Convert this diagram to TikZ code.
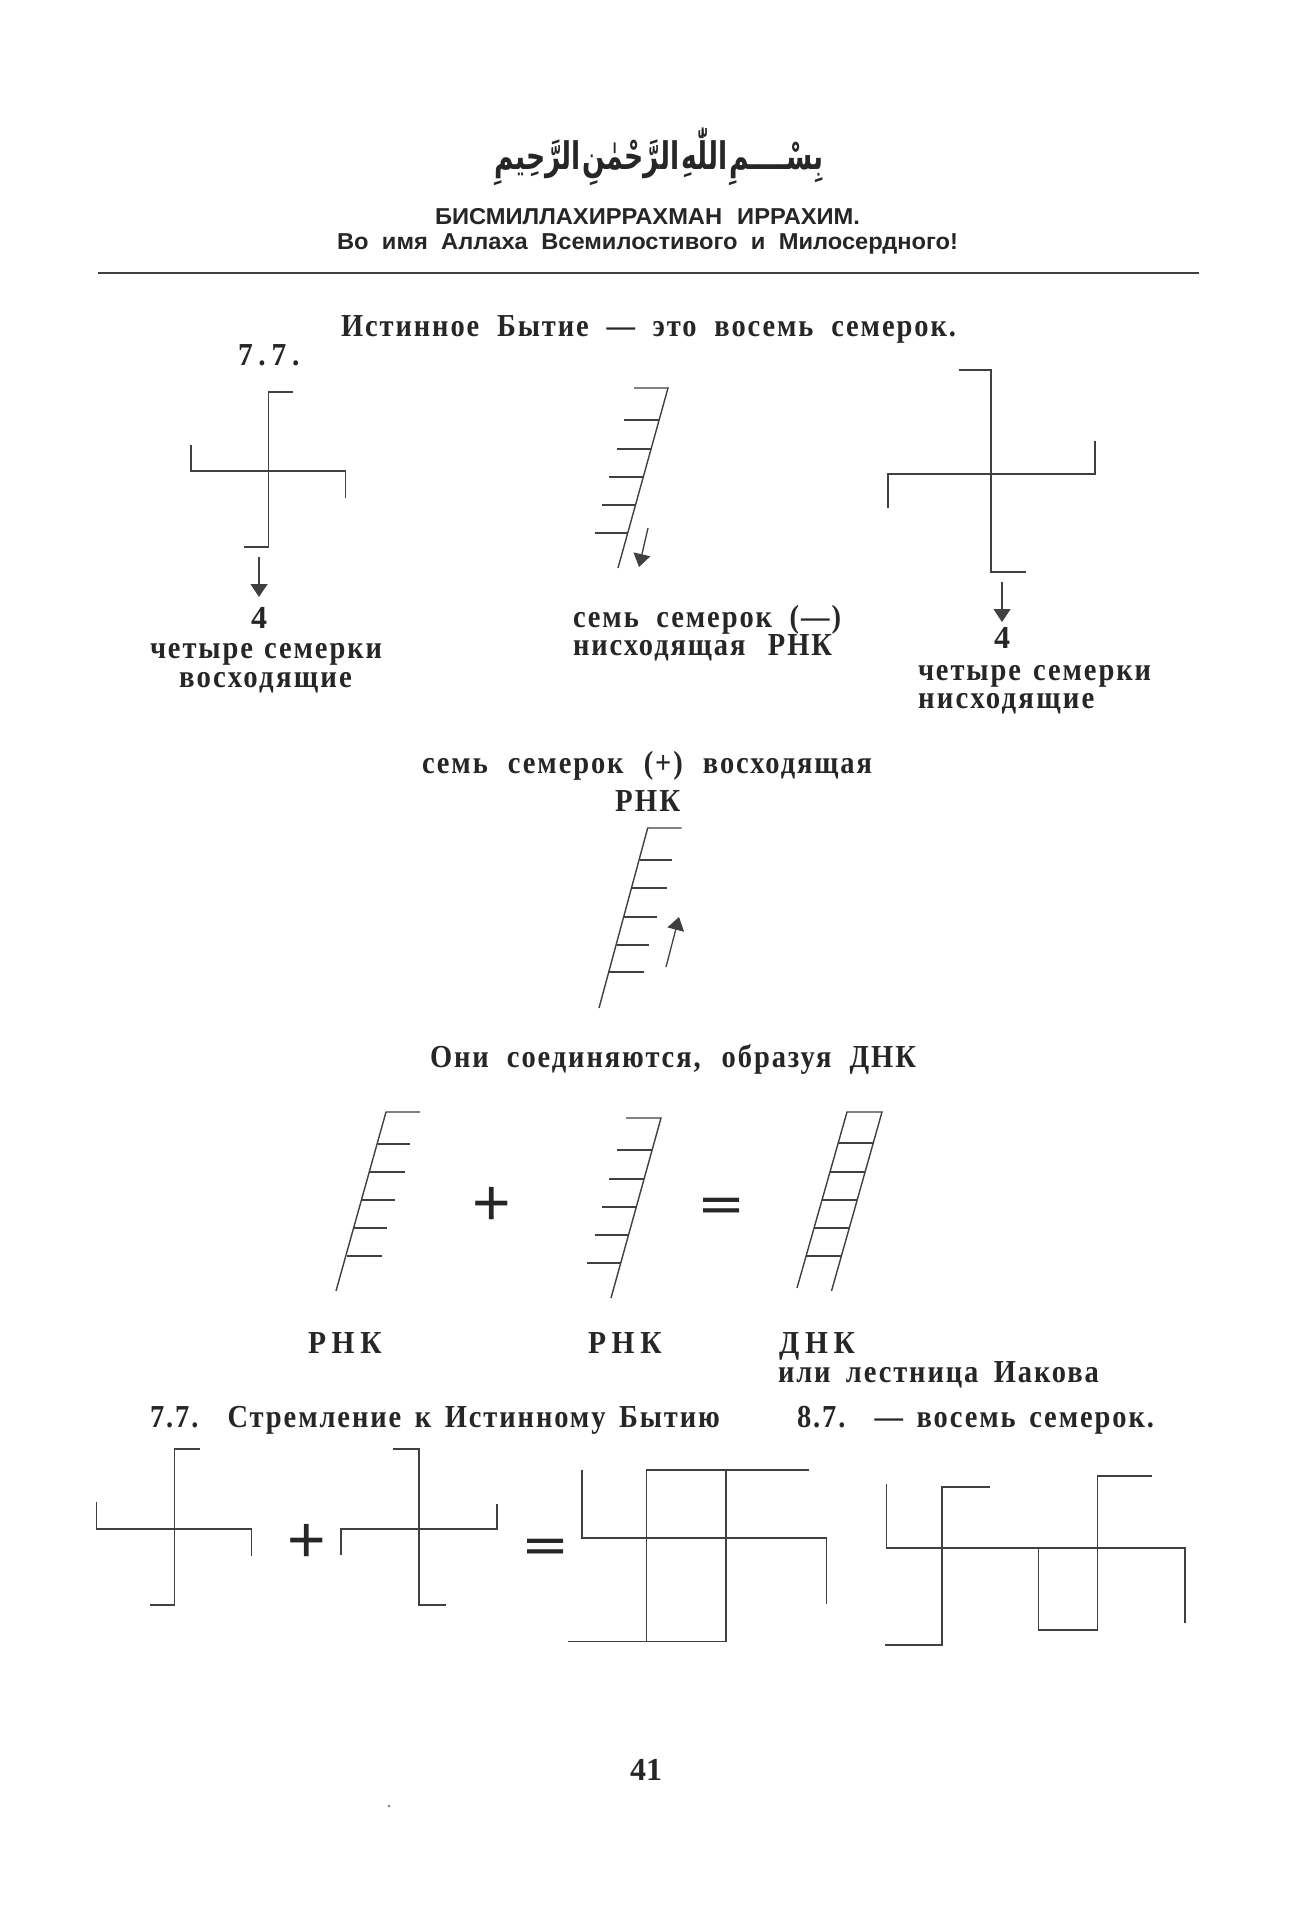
\documentclass[tikz,border=0pt]{standalone}
\usepackage{fontspec}
\usepackage{graphicx}
\usetikzlibrary{arrows.meta}
\TeXXeTstate=1
\setmainfont{Liberation Serif}
\newfontfamily\labf[LetterSpace=6,FakeStretch=0.89,WordSpace=0.8]{Liberation Serif}
\newfontfamily\labs[LetterSpace=7,FakeStretch=0.9]{Liberation Serif}
\newfontfamily\labw[LetterSpace=18,FakeStretch=0.92]{Liberation Serif}
\newfontfamily\headf[FakeStretch=1.03,WordSpace=0.5]{Liberation Sans}
\newfontfamily\symf{Liberation Sans}
\newfontfamily\arabicfont[Script=Arabic,FakeStretch=0.7,WordSpace=0.2]{DejaVu Sans}
\definecolor{ink}{HTML}{262626}
\definecolor{wire}{HTML}{404040}
\newcommand\lb[2]{\makebox[#1pt][s]{\fontsize{32}{32}\labf\bfseries #2}}
\newcommand\ls[1]{\fontsize{32}{32}\labs\bfseries #1}
\newcommand\lw[1]{\fontsize{32}{32}\labw\bfseries #1}
\newcommand\hd[2]{\makebox[#1pt][s]{\fontsize{23}{23}\headf\bfseries #2}}
\tikzset{
  txt/.style={inner sep=0pt,outer sep=0pt,anchor=base west,text=ink},
  sym/.style={inner sep=0pt,outer sep=0pt,anchor=center,text=ink},
  wl/.style={draw=wire,line width=1.4pt},
  arr/.style={draw=wire,line width=1.3pt,-{Stealth[length=13pt,width=17pt,inset=0pt]}}
}
\begin{document}
\begin{tikzpicture}[x=1pt,y=-1pt]
\useasboundingbox (0,0) rectangle (1308,1920);
\fill[white] (0,0) rectangle (1308,1920);
% header
\node[sym] (basmala) at (659,157) {\arabicfont\fontsize{38}{38}\selectfont\bfseries\beginR بِسْــــمِ اللّٰهِ الرَّحْمٰنِ الرَّحِيمِ\endR};
\node[txt] (h1) at (435,224) {\hd{425}{БИСМИЛЛАХИРРАХМАН ИРРАХИМ.}};
\node[txt] (h2) at (337,249) {\hd{621}{Во имя Аллаха Всемилостивого и Милосердного!}};
\draw[wl] (98,273) -- (1199,273);
\node[txt] (t1) at (341,336) {\lb{615}{Истинное Бытие — это восемь семерок.}};
\node[txt] (t2) at (238,365) {\lw{7.7.}};
% left swastika
\draw[wl] (293,392) -- (268.6,392) -- (268.6,547) -- (244,547);
\draw[wl] (191,445) -- (191,471) -- (345.7,471) -- (345.7,498);
\draw[arr] (259,557) -- (259,597);
\node[txt,anchor=base] (n4a) at (259,628) {\fontsize{32}{32}\selectfont\bfseries 4};
\node[txt] (l1) at (150,658) {\lb{232}{четыре семерки}};
\node[txt] (l2) at (179,687) {\ls{восходящие}};
% descending RNA
\draw[wl] (634,388) -- (668,388) -- (618,568);
\draw[wl] (624,420) -- (659,420);
\draw[wl] (617,449) -- (651,449);
\draw[wl] (609,477) -- (643,477);
\draw[wl] (602,505) -- (635,505);
\draw[wl] (595,533) -- (627,533);
\draw[arr] (648,528) -- (639,567);
\node[txt] (m1) at (573,627) {\lb{268}{семь семерок (—)}};
\node[txt] (m2) at (573,655) {\lb{259}{нисходящая РНК}};
% right swastika
\draw[wl] (958.6,370) -- (991,370) -- (991,572) -- (1025.5,572);
\draw[wl] (888,508) -- (888,474) -- (1095,474) -- (1095,441);
\draw[arr] (1002,582) -- (1002,622);
\node[txt,anchor=base] (n4b) at (1002,648) {\fontsize{32}{32}\selectfont\bfseries 4};
\node[txt] (r1) at (918,680) {\lb{233}{четыре семерки}};
\node[txt] (r2) at (918,708) {\ls{нисходящие}};
% ascending RNA
\node[txt] (c1) at (422,773) {\lb{450}{семь семерок (+) восходящая}};
\node[txt] (c2) at (615,811) {\ls{РНК}};
\draw[wl] (681.7,828) -- (647.7,828) -- (599,1008);
\draw[wl] (639.5,860) -- (672,860);
\draw[wl] (632,888) -- (667,888);
\draw[wl] (624,917) -- (657,917);
\draw[wl] (616.5,945) -- (649,945);
\draw[wl] (609,972) -- (644,972);
\draw[arr] (666,967) -- (679,917);
\node[txt] (c3) at (430,1067) {\lb{486}{Они соединяются, образуя ДНК}};
% ladders
\draw[wl] (420,1112) -- (386,1112) -- (336,1291);
\draw[wl] (377.5,1144) -- (410,1144);
\draw[wl] (370,1172) -- (404.5,1172);
\draw[wl] (362,1200) -- (394.5,1200);
\draw[wl] (354,1228) -- (387,1228);
\draw[wl] (346.5,1256) -- (382,1256);
\node[sym] (plus1) at (492,1206) {\fontsize{66}{66}\symf +};
\draw[wl] (626,1118) -- (661,1118) -- (611,1298);
\draw[wl] (617,1150) -- (652,1150);
\draw[wl] (609,1179) -- (644,1179);
\draw[wl] (602,1207) -- (636,1207);
\draw[wl] (595,1235) -- (628,1235);
\draw[wl] (587,1263) -- (620.5,1263);
\node[sym] (eq1) at (722,1208) {\scalebox{1.2}[0.65]{\fontsize{60}{60}\symf\bfseries =}};
\draw[wl] (797,1288) -- (847,1112) -- (882,1112) -- (831.5,1291);
\draw[wl] (838,1143) -- (873,1143);
\draw[wl] (830,1172) -- (865,1172);
\draw[wl] (822,1200) -- (857,1200);
\draw[wl] (814,1228) -- (849,1228);
\draw[wl] (806,1256) -- (841,1256);
\node[txt] (a1) at (308,1353) {\lw{РНК}};
\node[txt] (a2) at (588,1353) {\lw{РНК}};
\node[txt] (a3) at (779,1353) {\lw{ДНК}};
\node[txt] (a4) at (778,1382) {\lb{321}{или лестница Иакова}};
\node[txt] (b1) at (150,1427) {\lb{570}{7.7. Стремление к Истинному Бытию}};
\node[txt] (b2) at (797,1427) {\lb{357}{8.7. — восемь семерок.}};
% bottom swastikas
\draw[wl] (200,1449) -- (174.4,1449) -- (174.4,1605) -- (150,1605);
\draw[wl] (96.6,1502) -- (96.6,1529) -- (251.5,1529) -- (251.5,1556);
\node[sym] (plus2) at (307,1543) {\fontsize{66}{66}\symf +};
\draw[wl] (393,1449) -- (419,1449) -- (419,1605) -- (446,1605);
\draw[wl] (341,1555) -- (341,1529) -- (497,1529) -- (497,1504);
\node[sym] (eq2) at (546,1549) {\scalebox{1.2}[0.65]{\fontsize{60}{60}\symf\bfseries =}};
\draw[wl] (568,1641.3) -- (726,1641.3) -- (726,1470);
\draw[wl] (646.5,1641.3) -- (646.5,1470) -- (809,1470);
\draw[wl] (582,1470) -- (582,1538) -- (826.6,1538) -- (826.6,1604);
\draw[wl] (886.5,1484) -- (886.5,1548) -- (1185,1548) -- (1185,1623);
\draw[wl] (990,1487) -- (942,1487) -- (942,1645) -- (885,1645);
\draw[wl] (1151.6,1476) -- (1097.6,1476) -- (1097.6,1630) -- (1038.5,1630) -- (1038.5,1548);
\node[txt] (pg) at (630,1780) {\fontsize{32}{32}\selectfont\bfseries 41};
\fill[wire!70] (389,1806) circle (1.4pt);
\end{tikzpicture}
\end{document}
